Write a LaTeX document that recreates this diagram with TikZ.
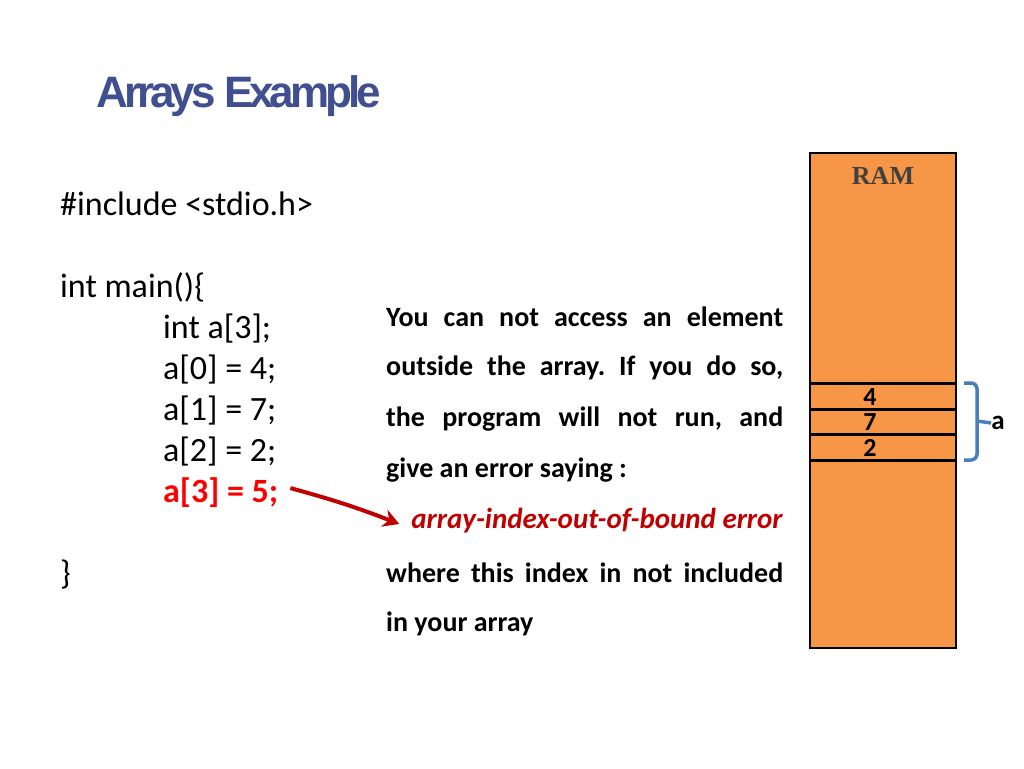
\documentclass[tikz,border=0pt]{standalone}
\usepackage{fontspec}
\setmainfont{Carlito}
\newfontfamily\titlefont[LetterSpace=-9]{Liberation Sans}
\newfontfamily\ramfont{Liberation Serif}
\usetikzlibrary{positioning,arrows.meta}
\definecolor{ramfill}{RGB}{247,150,70}
\definecolor{titleblue}{RGB}{63,79,143}
\definecolor{bracecol}{RGB}{74,126,187}
\definecolor{errred}{RGB}{192,0,0}
\frenchspacing
\begin{document}
\begin{tikzpicture}[x=1pt,y=-1pt]
\tikzset{code/.style={anchor=base west,inner sep=0pt,font=\fontsize{34}{34}\selectfont},
  txt/.style={anchor=west,inner sep=0pt,font=\fontsize{28}{28}\selectfont\bfseries},
  cell/.style={line width=3pt}}
\useasboundingbox (0,0) rectangle (1024,768);
% title
\node[anchor=west,inner sep=0pt,text=titleblue,font=\fontsize{44}{44}\titlefont\bfseries] (title) at (96,96) {Arrays Example};
% code
\node[code] (inc) at (60,215) {\#include <stdio.h>};
\node[code] (main) at (60,297) {int main()\{};
\node[code] (decl) at (163,338) {int a[3];};
\node[code] (a0) at (163,379) {a[0] = 4;};
\node[code] (a1) at (163,420) {a[1] = 7;};
\node[code] (a2) at (163,461) {a[2] = 2;};
\node[code,text=red,font=\fontsize{34}{34}\selectfont\bfseries] (a3) at (163,502) {a[3] = 5;};
\node[code] (close) at (60,584) {\}};
% explanation
\node[txt] (l1) at (386,317) {\makebox[397pt][s]{You can not access an element}};
\node[txt] (l2) at (386,368) {\makebox[397pt][s]{outside the array. If you do so,}};
\node[txt] (l3) at (386,419) {\makebox[397pt][s]{the program will not run, and}};
\node[txt] (l4) at (386,470) {give an error saying :};
\node[txt,anchor=east,text=errred,font=\fontsize{29}{29}\selectfont\bfseries\itshape] (err) at (783,521) {array-index-out-of-bound error};
\node[txt] (l6) at (386,573) {\makebox[397pt][s]{where this index in not included}};
\node[txt] (l7) at (386,624) {in your array};
\draw[errred,line width=4pt,-{Stealth[length=16pt,width=18pt]}] (a3.east) ++(12,-4) coordinate (tail) to[bend left=3] ([xshift=-12pt,yshift=-3pt]err.west);
% RAM
\draw[fill=ramfill,line width=2pt] (810,153) rectangle (956,648);
\node[font=\fontsize{26}{26}\ramfont\bfseries,text=black!75] (ram) at (883,176) {RAM};
\foreach \y in {383,409,434,460} \draw[cell] (810,\y) -- (956,\y);
\foreach \v/\y in {4/397,7/422,2/448}
  \node[font=\fontsize{26}{26}\selectfont\bfseries,inner sep=0pt] (c\v) at (870,\y) {\v};
\node[font=\fontsize{27}{27}\selectfont\bfseries,inner sep=0pt] (avar) at (998,423) {a};
\draw[bracecol,line width=3.5pt,rounded corners=6pt] (964,383) -- (977,383) -- (977,460) -- (964,460);
\draw[bracecol,line width=3.5pt] (977,421) -- (avar.west);
\end{tikzpicture}
\end{document}
